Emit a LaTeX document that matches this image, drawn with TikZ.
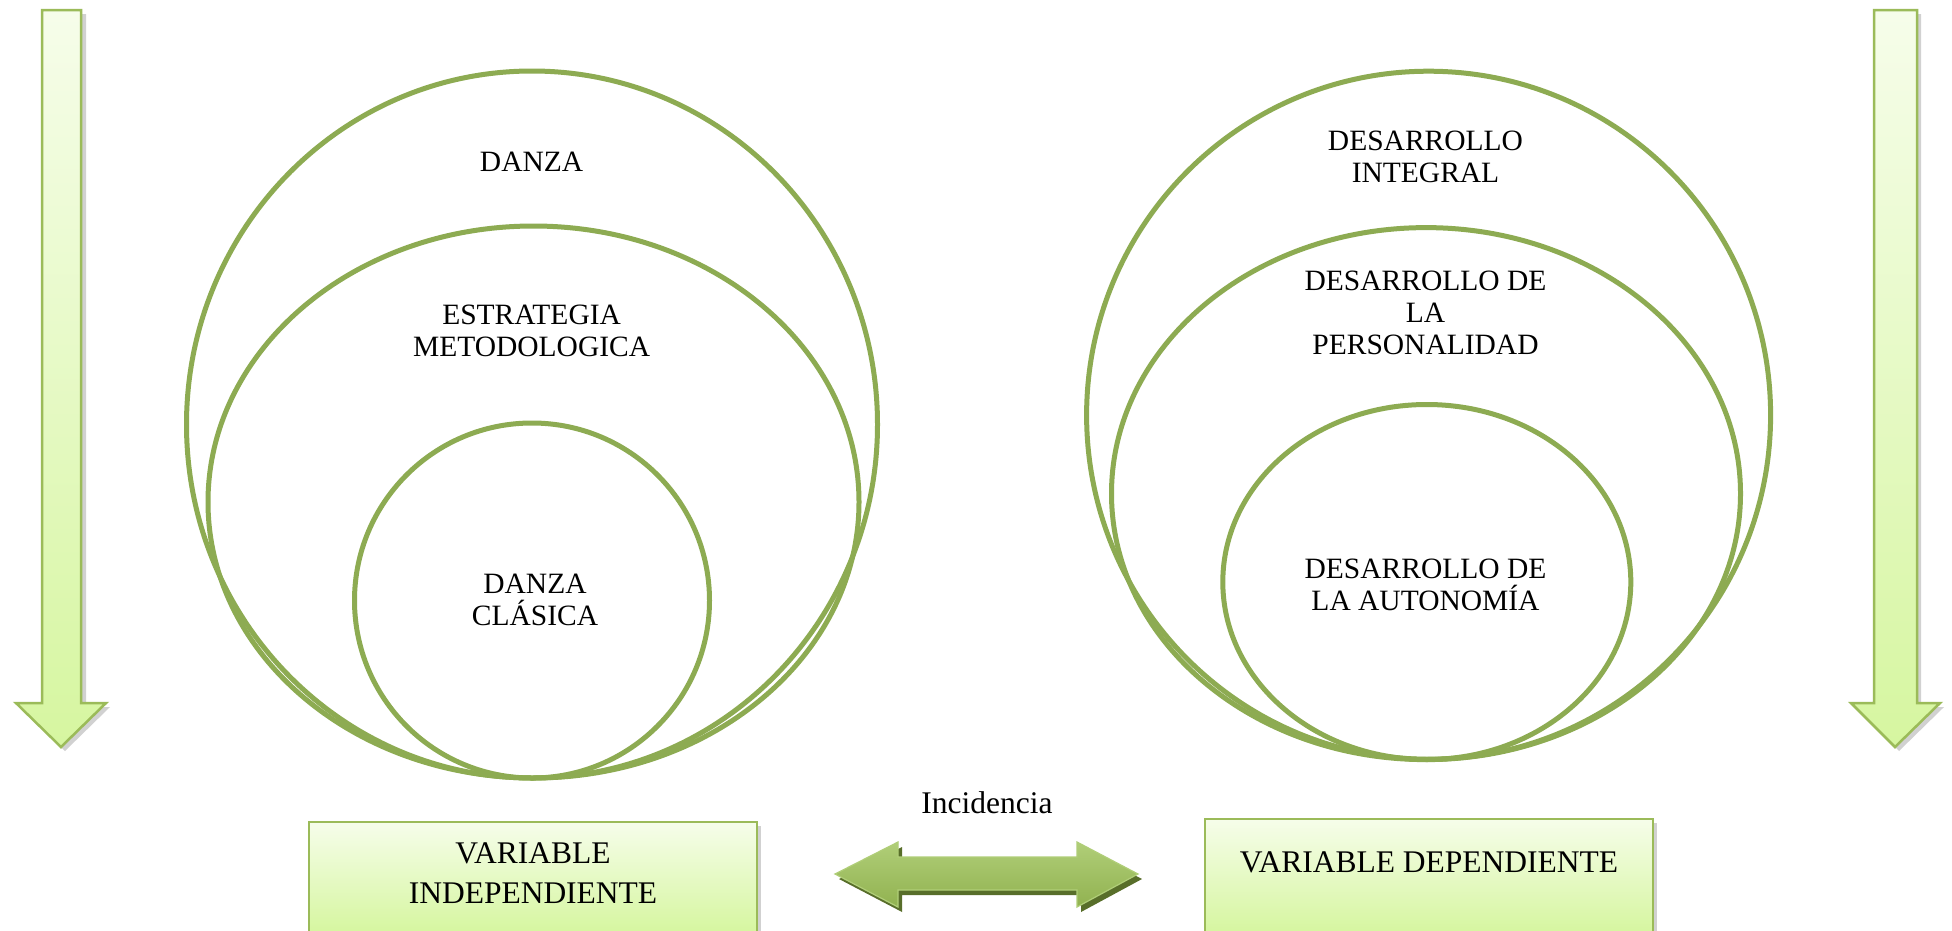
\documentclass[tikz,border=0pt]{standalone}
\usepackage{fontspec}
\setmainfont{Liberation Serif}
\usetikzlibrary{shapes.geometric}
\definecolor{olive}{RGB}{141,171,82}
\definecolor{abord}{RGB}{155,187,89}
\definecolor{atop}{RGB}{246,253,234}
\definecolor{abot}{RGB}{214,246,160}
\definecolor{dtop}{RGB}{176,206,120}
\definecolor{dbot}{RGB}{145,178,80}
\definecolor{dshadow}{RGB}{88,110,42}
\tikzset{
  ring/.style={ellipse, draw=olive, line width=5pt, inner sep=0pt},
  lbl/.style={align=center, font=\fontsize{29.5}{32}\selectfont, inner sep=0pt},
  boxlbl/.style={align=center, font=\fontsize{31.5}{40}\selectfont, inner sep=0pt},
  varbox/.style={rectangle, draw=abord, line width=2pt, top color=atop, bottom color=abot, inner sep=0pt},
  vshadow/.style={fill=black, opacity=0.18},
  varrow/.style={draw=abord, line width=2.5pt, top color=atop, bottom color=abot, line join=miter},
}
\begin{document}
\begin{tikzpicture}[x=1pt,y=-1pt]
\useasboundingbox (0,0) rectangle (1952,930);
\fill[white] (0,0) rectangle (1952,930);

% vertical arrows (shadow + body)
\fill[vshadow] (46,14) -- (86,14) -- (86,707) -- (110,707) -- (65,751) -- (20,707) -- (46,707) -- cycle;
\path[varrow] (42,10) -- (81,10) -- (81,703) -- (106,703) -- (61,747) -- (16,703) -- (42,703) -- cycle;
\fill[vshadow] (1878,14) -- (1921,14) -- (1921,707) -- (1944,707) -- (1899,751) -- (1855,707) -- (1878,707) -- cycle;
\path[varrow] (1874,10) -- (1917,10) -- (1917,703) -- (1940,703) -- (1895,747) -- (1851,703) -- (1874,703) -- cycle;

% left set of circles
\node[ring, minimum width=691pt, minimum height=707pt] (danza) at (532,424.5) {};
\node[ring, minimum width=651pt, minimum height=552pt] (estr) at (533.5,502) {};
\node[ring, minimum width=355pt, minimum height=355pt] (clas) at (532,600.5) {};
\node[lbl] (tdanza) at (531.6,162) {DANZA};
\node[lbl] (testr) at (531.6,331) {ESTRATEGIA\\METODOLOGICA};
\node[lbl] (tclas) at (535,600) {DANZA\\CLÁSICA};

% right set of circles
\node[ring, minimum width=684pt, minimum height=688pt] (integ) at (1428.6,415.2) {};
\node[ring, minimum width=629pt, minimum height=532pt] (pers) at (1426,493.6) {};
\node[ring, minimum width=408pt, minimum height=355pt] (auto) at (1426.8,582) {};
\node[lbl] (tinteg) at (1425.5,157) {DESARROLLO\\INTEGRAL};
\node[lbl] (tpers) at (1425.5,312.5) {DESARROLLO DE\\LA\\PERSONALIDAD};
\node[lbl] (tauto) at (1425.5,585) {DESARROLLO DE\\LA AUTONOMÍA};

% boxes
\fill[vshadow] (313,826) rectangle (761,936);
\node[varbox, minimum width=448pt, minimum height=110pt] (vi) at (533,877) {};
\node[boxlbl] (tvi) at (533,873) {VARIABLE\\INDEPENDIENTE};
\fill[vshadow] (1209,823) rectangle (1657,936);
\node[varbox, minimum width=448pt, minimum height=113pt] (vd) at (1429,875.5) {};
\node[boxlbl] (tvd) at (1429,862) {VARIABLE DEPENDIENTE};

% double arrow
\node[boxlbl] (inc) at (987,803) {Incidencia};
\fill[dshadow] (839,879) -- (902,847) -- (902,862) -- (1081,862) -- (1081,847) -- (1142,879) -- (1081,912) -- (1081,895) -- (902,895) -- (902,912) -- cycle;
\path[draw=dtop, line width=1.2pt, top color=dtop, bottom color=dbot]
  (835,874) -- (898,842) -- (898,857) -- (1077,857) -- (1077,842) -- (1138,874) -- (1077,907) -- (1077,890) -- (898,890) -- (898,907) -- cycle;
\end{tikzpicture}
\end{document}
